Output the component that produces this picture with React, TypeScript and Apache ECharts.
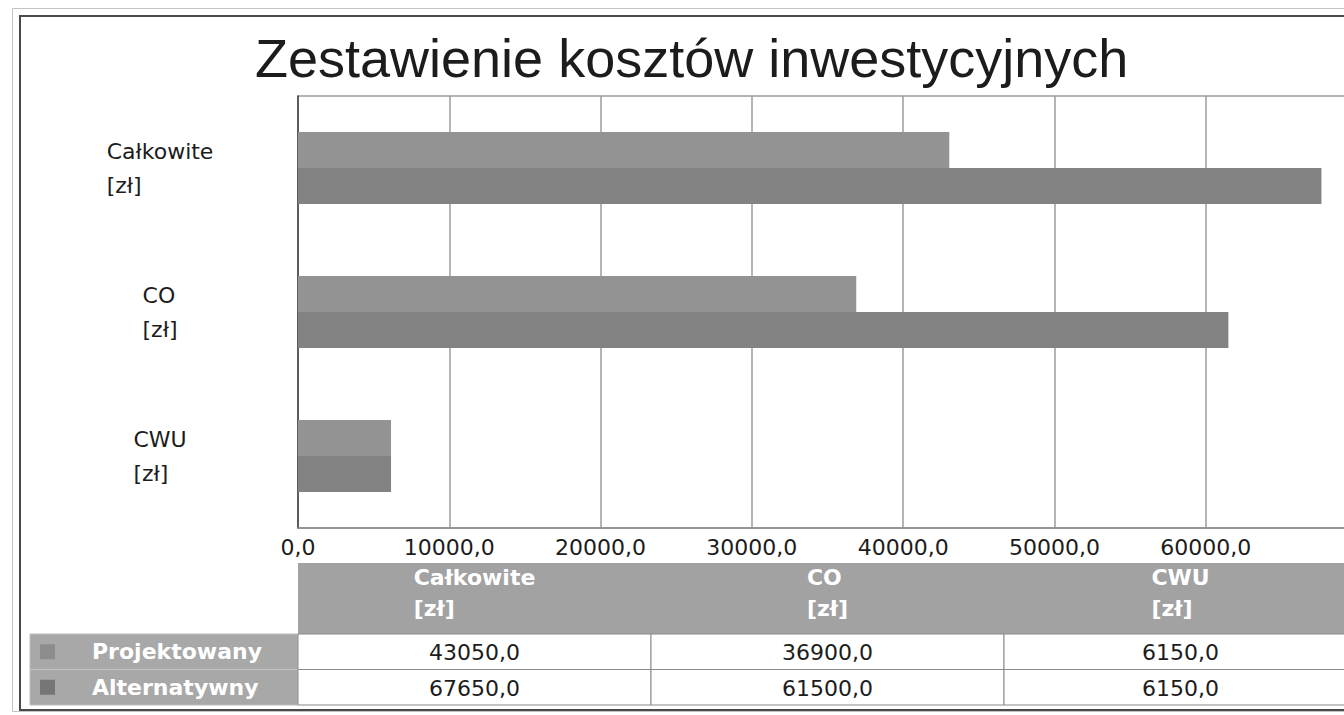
import React, { useEffect, useRef } from 'react';
import * as echarts from 'echarts';

const chartTitle = 'Zestawienie kosztów inwestycyjnych';
const categories = ['Całkowite', 'CO', 'CWU'];
const unit = '[zł]';
const seriesNames = ['Projektowany', 'Alternatywny'];
const projektowany = [43050, 36900, 6150];
const alternatywny = [67650, 61500, 6150];
const axisMin = 0;
const axisMax = 70000;
const axisInterval = 10000;

const seriesColors = ['#939393', '#828282'];
const swatchColors = ['#8d8d8d', '#767676'];
const FONT = '"DejaVu Sans", sans-serif';
const TEXT = '#1c1c1c';

const fmt = (v: number) => v.toFixed(1).replace('.', ',');

export default function App() {
  const ref = useRef<HTMLDivElement>(null);
  useEffect(() => {
    if (!ref.current) return;
    const chart = echarts.init(ref.current, null, { renderer: 'svg' });
    const seriesValues = [projektowany, alternatywny];
    const cellData: number[][] = [];
    seriesValues.forEach((vals, r) => vals.forEach((v, c) => cellData.push([c, r, v])));

    const option: any = {
      animation: false,
      backgroundColor: '#ffffff',
      title: {
        text: chartTitle,
        left: 255,
        top: 31,
        padding: 0,
        textStyle: { fontFamily: '"Liberation Sans", Arial, sans-serif', fontSize: 54, fontWeight: 'normal', color: TEXT },
      },
      graphic: [
        { type: 'rect', z: -20, shape: { x: 12.5, y: 8.5, width: 1400, height: 703 }, style: { fill: 'none', stroke: '#c4c4c4', lineWidth: 1 } },
        { type: 'rect', z: -20, shape: { x: 20, y: 16, width: 1400, height: 694 }, style: { fill: 'none', stroke: '#4a4a4a', lineWidth: 2 } },
        { type: 'rect', z: -10, shape: { x: 298, y: 563, width: 1070, height: 71 }, style: { fill: '#a2a2a2' } },
        { type: 'rect', z: -10, shape: { x: 30, y: 634, width: 268, height: 71 }, style: { fill: '#a8a8a8', stroke: '#bdbdbd', lineWidth: 1 } },
        { type: 'line', z: -9, shape: { x1: 30, y1: 669.5, x2: 298, y2: 669.5 }, style: { stroke: '#c2c2c2', lineWidth: 1 } },
      ],
      grid: [
        { left: 298, top: 96, width: 1059, height: 432, outerBoundsMode: 'none', containLabel: false, show: true, borderColor: '#9c9c9c', borderWidth: 1.5, backgroundColor: 'transparent' },
        { left: 298, top: 634, width: 1059, height: 71, outerBoundsMode: 'none', containLabel: false },
      ],
      xAxis: [
        {
          type: 'value', gridIndex: 0, min: axisMin, max: axisMax, interval: axisInterval,
          axisLine: { show: true, lineStyle: { color: '#8c8c8c', width: 1.5 } },
          axisTick: { show: false },
          splitLine: { show: true, lineStyle: { color: '#9c9c9c', width: 1.5 } },
          axisLabel: { showMaxLabel: false, margin: 8, fontFamily: FONT, fontSize: 22, color: TEXT, formatter: (v: number) => fmt(v) },
        },
        {
          type: 'category', gridIndex: 1, data: categories, position: 'top',
          axisLine: { show: false }, axisTick: { show: false }, splitLine: { show: false },
          axisLabel: {
            margin: 10,
            formatter: (v: string) => `{h|${v}}\n{h|${unit}}`,
            rich: { h: { align: 'left', fontFamily: FONT, fontSize: 22, fontWeight: 'bold', color: '#ffffff', lineHeight: 31 } },
          },
        },
      ],
      yAxis: [
        {
          type: 'category', gridIndex: 0, data: categories, inverse: true,
          axisLine: { show: true, lineStyle: { color: '#444444', width: 1.5 } },
          axisTick: { show: false },
          axisLabel: {
            align: 'center',
            margin: 138,
            formatter: (v: string) => `{l|${v}}\n{l|${unit}}`,
            rich: { l: { align: 'left', fontFamily: FONT, fontSize: 22, color: TEXT, lineHeight: 34 } },
          },
        },
        {
          type: 'category', gridIndex: 1, data: seriesNames, inverse: true,
          axisLine: { show: false }, axisTick: { show: false }, splitLine: { show: false },
          axisLabel: {
            align: 'left',
            margin: 258,
            formatter: (v: string, i: number) => `{s${i}|}{n|${v}}`,
            rich: {
              s0: { width: 15, height: 15, backgroundColor: swatchColors[0] },
              s1: { width: 15, height: 15, backgroundColor: swatchColors[1] },
              n: { align: 'left', padding: [0, 0, 0, 37], fontFamily: FONT, fontSize: 22, fontWeight: 'bold', color: '#ffffff' },
            },
          },
        },
      ],
      series: [
        { type: 'bar', name: seriesNames[0], data: projektowany, xAxisIndex: 0, yAxisIndex: 0, barWidth: 36, barGap: '0%', itemStyle: { color: seriesColors[0] } },
        { type: 'bar', name: seriesNames[1], data: alternatywny, xAxisIndex: 0, yAxisIndex: 0, barWidth: 36, barGap: '0%', itemStyle: { color: seriesColors[1] } },
        {
          type: 'custom', xAxisIndex: 1, yAxisIndex: 1, data: cellData,
          renderItem: (params: any, api: any) => {
            const c = api.coord([api.value(0), api.value(1)]);
            const s = api.size([1, 1]);
            return {
              type: 'group',
              children: [
                { type: 'rect', shape: { x: c[0] - s[0] / 2, y: c[1] - s[1] / 2, width: s[0], height: s[1] }, style: { fill: '#ffffff', stroke: '#8a8a8a', lineWidth: 1 } },
                { type: 'text', style: { text: fmt(api.value(2)), x: c[0], y: c[1] + 1, align: 'center', verticalAlign: 'middle', fontFamily: FONT, fontSize: 22, fill: TEXT } },
              ],
            };
          },
        },
      ],
    };
    chart.setOption(option);
    return () => chart.dispose();
  }, []);
  return <div ref={ref} style={{ position: 'fixed', left: 0, top: 0, width: 1344, height: 715 }} />;
}
